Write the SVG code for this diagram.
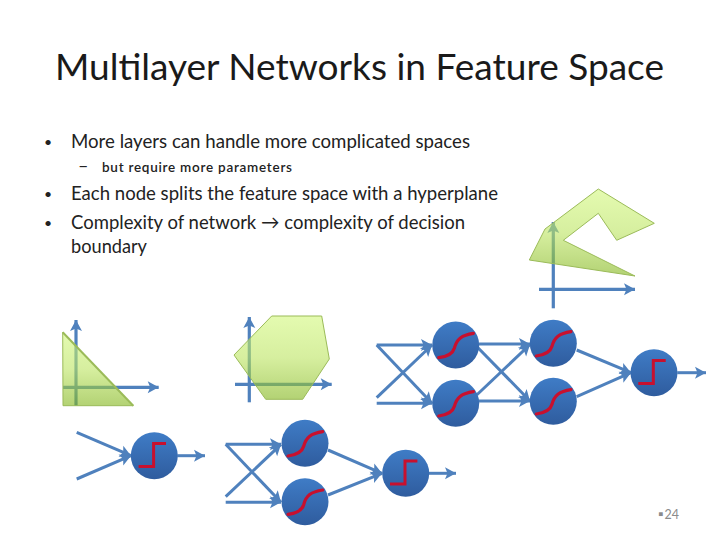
<svg xmlns="http://www.w3.org/2000/svg" width="720" height="540" viewBox="0 0 720 540">
<style>
text{font-family:"Lato","Noto Sans",sans-serif;fill:#222}
.b{font-size:19px}
.d{font-size:14px}
.title{font-size:36px;fill:#1a1a1a}
.ax{stroke:#4f81bd;stroke-width:3.2;fill:none;marker-end:url(#ah)}
.c{stroke:#4f81bd;stroke-width:3;fill:none;marker-end:url(#ah)}
.shape{fill:url(#green);stroke:#9bbb59;stroke-width:1;fill-opacity:.6}
.disc{fill:url(#blue)}
.sig{fill:none;stroke:#c8102e;stroke-width:3.2;stroke-linecap:round}
.step{fill:none;stroke:#c8102e;stroke-width:3}
</style>
<defs>
<marker id="ah" markerUnits="userSpaceOnUse" markerWidth="14" markerHeight="14" refX="11" refY="6" orient="auto" overflow="visible">
<path d="M0,0 L11,6 L0,12 L2.5,6 Z" fill="#4f81bd"/>
</marker>
<linearGradient id="green" x1="0" y1="0" x2="0" y2="1"><stop offset="0" stop-color="#d2f87b"/><stop offset=".5" stop-color="#bbe45f"/><stop offset="1" stop-color="#80b417"/></linearGradient>
<linearGradient id="blue" x1="0" y1="0" x2="0" y2="1"><stop offset="0" stop-color="#3f7cc6"/><stop offset="1" stop-color="#2f5c9e"/></linearGradient>
<g id="sn"><circle class="disc" r="23.5"/><path class="sig" d="M-17,12.7 C-8,11.5 -3,9 -1.3,3 C1,-6 6,-10 17.7,-11.7"/></g>
<g id="tn"><circle class="disc" r="23.5"/><path class="step" d="M-15.7,10.7 H-.7 V-12.3 H11.7"/></g>
</defs>
<rect width="720" height="540" fill="#fff"/>
<text class="title" x="55" y="80" textLength="609" lengthAdjust="spacingAndGlyphs">Multilayer Networks in Feature Space</text>
<g id="bullets">
<text class="d" x="44" y="147">•</text>
<text class="b" x="71" y="148" textLength="399" lengthAdjust="spacingAndGlyphs">More layers can handle more complicated spaces</text>
<text x="78" y="172" font-size="18">–</text>
<text x="102" y="172" font-size="13.5" textLength="190" font-weight="600">but require more parameters</text>
<text class="d" x="44" y="199">•</text>
<text class="b" x="71" y="200" textLength="427" lengthAdjust="spacingAndGlyphs">Each node splits the feature space with a hyperplane</text>
<text class="d" x="44" y="228">•</text>
<text class="b" x="71" y="229" textLength="394" lengthAdjust="spacingAndGlyphs">Complexity of network → complexity of decision</text>
<text class="b" x="71" y="253" textLength="76" lengthAdjust="spacingAndGlyphs">boundary</text>
</g>
<g id="plot-concave">
<path class="ax" d="M553.3,308.3 V222"/><path class="ax" d="M539,289.3 H635"/>
<polygon class="shape" points="598.3,189 654.3,223.3 616.7,240.3 598.3,213.3 563.3,240.3 635,276 529.3,260 545,229"/>
</g>
<g id="plot-triangle">
<path class="ax" d="M76,405.7 V320"/><path class="ax" d="M63,387.3 H158.7"/>
<polygon class="shape" points="62.7,332.3 133.3,405.7 63,405.7"/>
<path d="M62.7,332.3 L133.3,405.7" stroke="#9bbb59" stroke-width="2" fill="none"/>
</g>
<g id="plot-hexagon">
<path class="ax" d="M249.3,402.3 V317"/><path class="ax" d="M235,384.3 H331.7"/>
<polygon class="shape" points="271.7,316 321.7,316 329.3,359 302.7,399.3 265.7,399.3 234,355"/>
</g>
<g id="connectors">
<path class="c" d="M76.7,432.3 L131,455.7"/><path class="c" d="M76.7,479 L131,455.7"/><path class="c" d="M177.3,455.7 H205"/>
<path class="c" d="M225.7,444.3 H281"/><path class="c" d="M225.7,444.3 L281,502.3"/><path class="c" d="M225.7,496.7 L281,444.3"/><path class="c" d="M225.7,502.3 H281"/>
<path class="c" d="M328,450 L382,473.3"/><path class="c" d="M328,495 L382,473.3"/><path class="c" d="M429,473.3 H456"/>
<path class="c" d="M376.7,345 H432"/><path class="c" d="M376.7,345 L432,403.3"/><path class="c" d="M376.7,397.7 L432,345"/><path class="c" d="M376.7,403.3 H432"/>
<path class="c" d="M479,344 H530"/><path class="c" d="M477,346.7 L530,401"/><path class="c" d="M476.7,395 L530,344.5"/><path class="c" d="M479,401 H530"/>
<path class="c" d="M576.7,350 L631,372.7"/><path class="c" d="M576.7,396.7 L631,372.7"/><path class="c" d="M677.3,372.7 H706"/>
</g>
<use id="n1" href="#tn" x="154.3" y="455.7"/>
<use id="n2" href="#sn" x="305" y="443.3"/>
<use id="n3" href="#sn" x="305" y="501.7"/>
<use id="n4" href="#tn" x="405.7" y="473.3"/>
<use id="n5" href="#sn" x="455.7" y="345"/>
<use id="n6" href="#sn" x="455.7" y="403.3"/>
<use id="n7" href="#sn" x="553.3" y="343.3"/>
<use id="n8" href="#sn" x="553.3" y="401.3"/>
<use id="n9" href="#tn" x="654" y="372.7"/>
<g id="page"><text x="658" y="519" font-size="14" style="fill:#8b8b8b">▪</text><text x="664.5" y="519" font-size="12.5" style="fill:#8b8b8b">24</text></g>
</svg>
